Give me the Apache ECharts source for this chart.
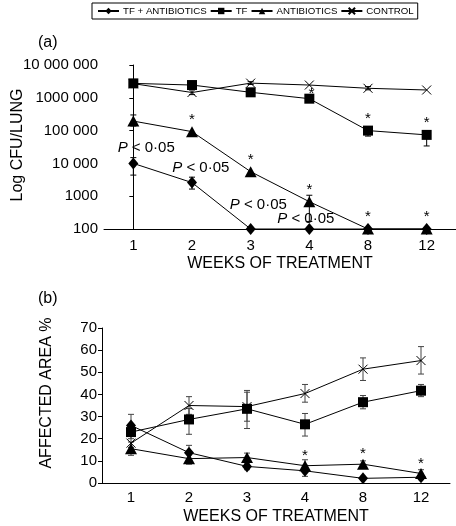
<!DOCTYPE html>
<html><head><meta charset="utf-8">
<script src="https://cdn.jsdelivr.net/npm/echarts@6/dist/echarts.min.js"></script>
<style>html,body{margin:0;padding:0;background:#fff}#c{width:456px;height:526px}</style>
</head><body><div id="c"></div>
<script>
// ---------- DATA ----------
const weeks = ['1', '2', '3', '4', '8', '12'];
const seriesNames = ['TF + ANTIBIOTICS', 'TF', 'ANTIBIOTICS', 'CONTROL'];

// (a) Log CFU/LUNG
const cfuTickLabels = ['100', '1000', '10 000', '100 000', '1000 000', '10 000 000'];
const cfuTfAb   = [10000, 2600, 100, 100, 100, 100];
const cfuTf     = [2750000, 2450000, 1470000, 940000, 100000, 74000];
const cfuAb     = [195000, 93000, 5600, 680, 100, 100];
const cfuCtrl   = [2700000, 1450000, 2800000, 2450000, 1950000, 1730000];
const cfuTfAbLow  = [4400, 1650, null, null, null, null];
const cfuTfAbHigh = [15000, 3800, null, null, null, null];
const cfuTfLow    = [null, null, null, null, 68000, 34000];
const cfuTfHigh   = [null, null, null, null, 130000, 90000];
const cfuAbLow    = [138000, null, null, 170, null, null];
const cfuAbHigh   = [300000, null, null, 1070, null, null];
const cfuCtrlLow  = [null, 1250000, 2550000, null, 1750000, null];
const cfuCtrlHigh = [null, 1850000, 3100000, null, 2200000, null];
const cfuStarTf = [0, 0, 0, 1, 1, 1];
const cfuStarAb = [0, 1, 1, 1, 1, 1];
const pLabelText = 'P < 0·05';
const pLabelX = [0.22, 1.15, 2.13, 2.94];
const pLabelY = [29500, 7200, 540, 200];

// (b) AFFECTED AREA %
const areaTfAb = [26, 13.7, 7.5, 5.5, 2.1, 2.6];
const areaTf   = [23, 28.7, 33.5, 26.5, 36.5, 41.7];
const areaAb   = [15.5, 11, 11.5, 7.8, 8.5, 4.3];
const areaCtrl = [18, 35, 34.5, 40.4, 51.4, 55.3];
const areaTfAbLow  = [21, 10.5, 6, 3, 1.5, 1.5];
const areaTfAbHigh = [31, 17, 9, 8, 2.7, 3.7];
const areaTfLow    = [20, 22, 27.9, 21.2, 33.5, 39];
const areaTfHigh   = [26, 33.6, 41, 31.4, 39.5, 44.5];
const areaAbLow    = [12.5, 8.5, 9.5, 5, 7, 3];
const areaAbHigh   = [18.5, 13.5, 13.5, 10.5, 10, 6];
const areaCtrlLow  = [16, 31, 24.6, 36.5, 46.3, 49.2];
const areaCtrlHigh = [21, 39, 41.8, 44.5, 56.5, 61.6];
const areaStarAb = [0, 0, 0, 1, 1, 1];
const areaTicks = [0, 70, 10];

// ---------- STYLE ----------
const FONT = '"Liberation Sans", Arial, Helvetica, sans-serif';
const symbols = ['diamond', 'rect', 'triangle', 'path://M0,0L10,10M0,10L10,0'];
const symSizes = [[10, 12], 10, [12, 11], 9];

function lineSeries(name, i, data, gi) {
  const isCross = i === 3;
  return {
    type: 'line', name, data, xAxisIndex: gi === 0 ? 0 : 1, yAxisIndex: gi,
    symbol: symbols[i], symbolSize: symSizes[i], symbolKeepAspect: false,
    showAllSymbol: true, z: 3,
    lineStyle: { color: '#000', width: 1 },
    itemStyle: isCross ? { color: 'rgba(0,0,0,0)', borderColor: '#000', borderWidth: 1 }
                       : { color: '#000', borderWidth: 0 },
    emphasis: { disabled: true }, animation: false
  };
}

function errSeries(lows, highs, gi, color) {
  const data = [];
  lows.forEach((lo, k) => { if (lo != null && highs[k] != null) data.push([k, lo, highs[k]]); });
  return {
    type: 'custom', xAxisIndex: gi === 0 ? 0 : 1, yAxisIndex: gi, z: 2, silent: true,
    data, animation: false,
    renderItem(params, api) {
      const x = api.value(0);
      const p1 = api.coord([x, api.value(1)]);
      const p2 = api.coord([x, api.value(2)]);
      const c = 3;
      const st = { stroke: color, lineWidth: 1 };
      return { type: 'group', children: [
        { type: 'line', shape: { x1: p1[0], y1: p1[1], x2: p2[0], y2: p2[1] }, style: st },
        { type: 'line', shape: { x1: p1[0] - c, y1: p1[1], x2: p1[0] + c, y2: p1[1] }, style: st },
        { type: 'line', shape: { x1: p2[0] - c, y1: p2[1], x2: p2[0] + c, y2: p2[1] }, style: st }
      ]};
    }
  };
}

function starSeries(flags, values, gi, dy, special) {
  const data = [];
  flags.forEach((f, k) => { if (f) data.push([k, values[k]]); });
  return {
    type: 'custom', xAxisIndex: gi === 0 ? 0 : 1, yAxisIndex: gi, z: 4, silent: true,
    data, animation: false,
    renderItem(params, api) {
      const k = api.value(0);
      const p = api.coord([k, api.value(1)]);
      const off = (special && special[k]) || [0, dy];
      return { type: 'text', x: p[0] + off[0], y: p[1] + off[1] + 3,
        style: { text: '*', fill: '#000', font: '15px ' + FONT, align: 'center', verticalAlign: 'middle' } };
    }
  };
}

const pData = pLabelX.map((x, k) => [x, pLabelY[k]]);

const axisLineStyle = { lineStyle: { color: '#000', width: 1 } };
const tickLabelStyle = { color: '#000', fontSize: 15, fontFamily: FONT };

const option = {
  animation: false,
  backgroundColor: '#fff',
  textStyle: { fontFamily: FONT },
  legend: {
    data: seriesNames, left: 92, top: 3, orient: 'horizontal',
    padding: [3, 4, 3, 5], itemGap: 3, itemWidth: 21, itemHeight: 8,
    borderColor: '#000', borderWidth: 1, borderRadius: 0,
    textStyle: { color: '#000', fontSize: 9.7, fontFamily: FONT, padding: [0, 0, 0, -1] },
    selectedMode: false
  },
  grid: [
    { left: 104, top: 65, width: 352, height: 164 },
    { left: 102, top: 328, width: 348, height: 156 }
  ],
  xAxis: [
    { type: 'category', gridIndex: 0, data: weeks, boundaryGap: true,
      axisLine: axisLineStyle, axisTick: { inside: true, length: 3, lineStyle: { color: '#000' } },
      axisLabel: Object.assign({ margin: 9 }, tickLabelStyle),
      name: 'WEEKS OF TREATMENT', nameLocation: 'middle', nameGap: 27,
      nameTextStyle: { color: '#000', fontSize: 16, fontFamily: FONT } },
    { type: 'category', gridIndex: 1, data: weeks, boundaryGap: true,
      axisLine: axisLineStyle, axisTick: { inside: true, length: 3, lineStyle: { color: '#000' } },
      axisLabel: Object.assign({ margin: 7 }, tickLabelStyle),
      name: 'WEEKS OF TREATMENT', nameLocation: 'middle', nameGap: 26,
      nameTextStyle: { color: '#000', fontSize: 16, fontFamily: FONT } },
    { type: 'value', gridIndex: 0, min: -0.5, max: 5.5, show: false }
  ],
  yAxis: [
    { type: 'log', gridIndex: 0, logBase: 10, min: 100, max: 10000000, interval: 1,
      axisLine: { show: true, lineStyle: { color: '#000', width: 1 } },
      axisTick: { show: true, inside: false, length: 4, lineStyle: { color: '#000' } },
      splitLine: { show: false },
      axisLabel: Object.assign({ margin: 6,
        formatter: v => cfuTickLabels[Math.round(Math.log10(v)) - 2] }, tickLabelStyle) },
    { type: 'value', gridIndex: 1, min: areaTicks[0], max: areaTicks[1], interval: areaTicks[2],
      axisLine: { show: true, lineStyle: { color: '#000', width: 1 } },
      axisTick: { show: true, inside: false, length: 4, lineStyle: { color: '#000' } },
      splitLine: { show: false },
      axisLabel: Object.assign({ margin: 5 }, tickLabelStyle) }
  ],
  graphic: [
    { type: 'text', x: 38, y: 43, style: { text: '(a)', font: '16px ' + FONT, fill: '#000', verticalAlign: 'middle' } },
    { type: 'text', x: 38, y: 299, style: { text: '(b)', font: '16px ' + FONT, fill: '#000', verticalAlign: 'middle' } },
    { type: 'text', x: 18, y: 145, rotation: Math.PI / 2,
      style: { text: 'Log CFU/LUNG', font: '16px ' + FONT, fill: '#000', align: 'center', verticalAlign: 'middle' } },
    { type: 'text', x: 47, y: 393, rotation: Math.PI / 2,
      style: { text: 'AFFECTED AREA %', font: '16px ' + FONT, fill: '#000', align: 'center', verticalAlign: 'middle' } }
  ],
  series: [
    errSeries(cfuTfAbLow, cfuTfAbHigh, 0, '#000'),
    errSeries(cfuTfLow, cfuTfHigh, 0, '#000'),
    errSeries(cfuAbLow, cfuAbHigh, 0, '#000'),
    errSeries(cfuCtrlLow, cfuCtrlHigh, 0, '#000'),
    lineSeries(seriesNames[3], 3, cfuCtrl, 0),
    lineSeries(seriesNames[1], 1, cfuTf, 0),
    lineSeries(seriesNames[2], 2, cfuAb, 0),
    lineSeries(seriesNames[0], 0, cfuTfAb, 0),
    starSeries(cfuStarTf, cfuTf, 0, -15, { 3: [2, -8] }),
    starSeries(cfuStarAb, cfuAb, 0, -15),
    {
      type: 'custom', xAxisIndex: 2, yAxisIndex: 0, z: 5, silent: true, data: pData, animation: false,
      renderItem(params, api) {
        const p = api.coord([api.value(0), api.value(1)]);
        return { type: 'text', x: p[0], y: p[1],
          style: { text: '{i|P}' + pLabelText.slice(1), fill: '#000', font: '15px ' + FONT,
            align: 'center', verticalAlign: 'middle',
            rich: { i: { fontStyle: 'italic', fontSize: 15, fontFamily: FONT, fill: '#000' } } } };
      }
    },
    errSeries(areaTfAbLow, areaTfAbHigh, 1, '#444'),
    errSeries(areaTfLow, areaTfHigh, 1, '#444'),
    errSeries(areaAbLow, areaAbHigh, 1, '#444'),
    errSeries(areaCtrlLow, areaCtrlHigh, 1, '#444'),
    lineSeries(seriesNames[3], 3, areaCtrl, 1),
    lineSeries(seriesNames[1], 1, areaTf, 1),
    lineSeries(seriesNames[2], 2, areaAb, 1),
    lineSeries(seriesNames[0], 0, areaTfAb, 1),
    starSeries(areaStarAb, areaAb, 1, -13)
  ]
};

const chart = echarts.init(document.getElementById('c'), null, { renderer: 'canvas' });
chart.setOption(option);
</script>
</body></html>
